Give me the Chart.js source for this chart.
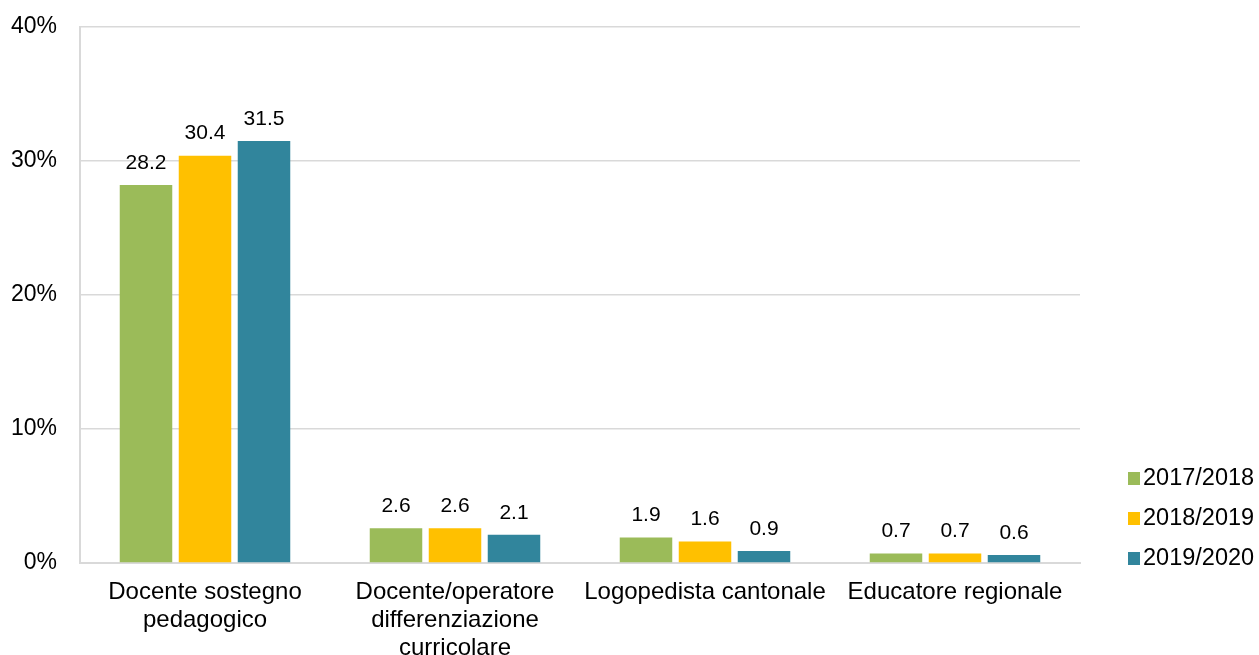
<!DOCTYPE html>
<html>
<head>
<meta charset="utf-8">
<script src="https://cdn.jsdelivr.net/npm/chart.js@4/dist/chart.umd.min.js"></script>
<style>
html,body{margin:0;padding:0;background:#fff;}
#wrap{position:relative;width:1259px;height:655px;}
</style>
</head>
<body>
<div id="wrap"><canvas id="c" width="1259" height="655"></canvas></div>
<script>
const categories = [
  ['Docente sostegno', 'pedagogico'],
  ['Docente/operatore', 'differenziazione', 'curricolare'],
  'Logopedista cantonale',
  'Educatore regionale'
];
const seriesLabels = ['2017/2018', '2018/2019', '2019/2020'];
const values2017 = [28.2, 2.6, 1.9, 0.7];
const values2018 = [30.4, 2.6, 1.6, 0.7];
const values2019 = [31.5, 2.1, 0.9, 0.6];
const colors = ['#9BBB59', '#FFC000', '#31859C'];
const yTicks = [0, 10, 20, 30, 40];

const FONT = "'Liberation Sans', Arial, sans-serif";

const valueLabels = {
  id: 'valueLabels',
  afterDatasetsDraw(chart) {
    const ctx = chart.ctx;
    ctx.save();
    ctx.font = "21px " + FONT;
    ctx.fillStyle = '#000';
    ctx.textAlign = 'center';
    ctx.textBaseline = 'middle';
    chart.data.datasets.forEach((ds, i) => {
      chart.getDatasetMeta(i).data.forEach((bar, j) => {
        ctx.fillText(ds.data[j].toFixed(1), bar.x, bar.y - 22);
      });
    });
    ctx.restore();
  }
};

const sideLegend = {
  id: 'sideLegend',
  afterDraw(chart) {
    const ctx = chart.ctx;
    ctx.save();
    ctx.font = "23.5px " + FONT;
    ctx.textAlign = 'left';
    ctx.textBaseline = 'middle';
    chart.data.datasets.forEach((ds, i) => {
      const cy = 478 + i * 40;
      ctx.fillStyle = ds.backgroundColor;
      ctx.fillRect(1128, cy - 6, 12, 13);
      ctx.fillStyle = '#000';
      ctx.fillText(ds.label, 1143, cy + 1);
    });
    ctx.restore();
  }
};

new Chart(document.getElementById('c'), {
  type: 'bar',
  data: {
    labels: categories,
    datasets: [
      { label: seriesLabels[0], data: values2017, backgroundColor: colors[0] },
      { label: seriesLabels[1], data: values2018, backgroundColor: colors[1] },
      { label: seriesLabels[2], data: values2019, backgroundColor: colors[2] }
    ]
  },
  options: {
    responsive: false,
    animation: false,
    devicePixelRatio: 1,
    categoryPercentage: 0.708,
    barPercentage: 0.89,
    layout: { padding: { top: 27, right: 179, bottom: 0, left: 0 } },
    plugins: {
      legend: { display: false },
      tooltip: { enabled: false }
    },
    scales: {
      x: {
        grid: { display: false, drawTicks: false },
        border: { display: true, color: '#d9d9d9', width: 2 },
        ticks: {
          color: '#000',
          font: { family: FONT, size: 24, lineHeight: 1.15 },
          padding: 16,
          maxRotation: 0,
          autoSkip: false
        },
        afterFit(s) { s.height = 92; s.paddingLeft = 0; s.paddingRight = 0; }
      },
      y: {
        min: 0,
        max: 40,
        afterBuildTicks(s) { s.ticks = yTicks.map(v => ({ value: v })); },
        grid: { color: '#d9d9d9', lineWidth: 1.5, drawTicks: false },
        border: { display: true, color: '#d9d9d9', width: 2 },
        ticks: {
          color: '#000',
          font: { family: FONT, size: 23 },
          padding: 23,
          callback: v => v + '%'
        },
        afterFit(s) { s.width = 80; s.paddingTop = 0; s.paddingBottom = 0; }
      }
    }
  },
  plugins: [valueLabels, sideLegend]
});
</script>
</body>
</html>
